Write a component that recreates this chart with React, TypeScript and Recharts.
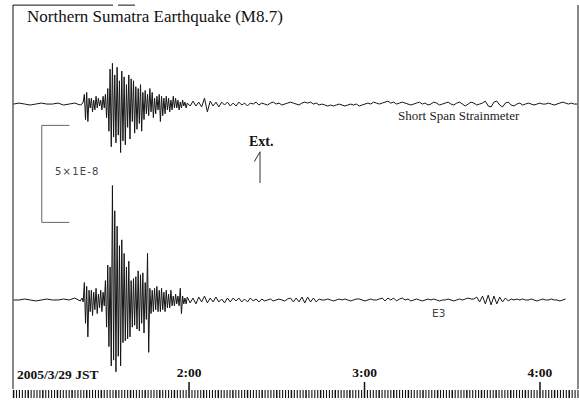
import { Customized, Line, LineChart, ReferenceLine, XAxis, YAxis } from 'recharts';

// sampling of the recordings, minutes after 0:00 JST
const quietStart = 60;
const quietStep = 1.9;
const burstStart = 83.4;
const burstStep = 0.4;
const codaStart = 119.4;
const codaStep = 0.98;

// strain in 1E-9 (short span strainmeter)
const upperQuiet = [0, 0.5, 0, -0.5, 0, 0.5, 0, 0, 0.5, -0.5, 0, 0.5, -0.5];
const upperBurst = [
  0, 1, 5, -8, 6, -9, 3,
  -2, 3, -4, 2, -3, 4, -2, 3, -1, 2, -3, 4, -2,
  5, -7, 8,
  -14, 18, -22, 21, -17, 15, -20,
  19, -16, 12, -25, 17, -19, 14, -21, 10,
  -12, 15, -18, 13, -9, 12, -15,
  9, -13, 8, -10, 10, -14, 6, -8, 7, -5, 5,
  -6, 8, -4, 6, -7, 3, -5, 4, -3,
  5, -9, 4, -6, 3, -5, 4, -3,
  3, -4, 2, -3, 4, -2, 3, -2, 2, -3, 1, -2, 2, -1, 1, -2,
];
const upperCoda = [
  0.5, -1, 1.5, -1, 1, -1.5, 3, -4, 1.5, -1, 1, -1.5, 1, -0.5, 1, -1, 0.5, -1, 1, -0.5, 0.5, -1,
  0.5, 0, 1, -0.5, 0.5, 0, -0.5, 0.5, 1, 0, 0.5, -0.5, 0, 0.5, 1, 0.5, 0, -0.5, 0.5,
  1, 0.5, 1, 0, 0.5, -0.5, 0, -0.5, -1, -0.5, -1, -0.5, 0, -0.5, -1, -0.5, 0, -0.5, 0, -1, -0.5, 0,
  0.5, 0, 1, 0.5, 0, 0.5, 1, 1.5, 0.5, 1, 0, 0.5, 1, 0.5, 0, -0.5, 0, 0.5,
  1, 0, 0.5, -0.5, 0, 1, 0.5, -0.5, 0, 0.5, 1, 0, -0.5, 0.5, 1, 0, -1, 0, 1, 0.5, -0.5, 0, 0.5,
  1.5, -1, -1.5, 1, 1.5, -0.5, -1.5, 0.5, 1, -0.5, -1,
  0, 0.5, -0.5, 0, 0.5, 0, -0.5, 0, 0.5, 0, 0, 0.5, 0, -0.5, 0, 0.5, 1, 0.5, 0, 0.5, 0, 0,
];

// strain in 1E-9 (E3)
const lowerQuiet = [0, 0, 0.5, 0, -0.5, 0, 0.5, 0, 0, 0.5, 0, 1, -0.5];
const lowerBurst = [
  1, -1, 9, -12, 7, -19, 5,
  -6, 5, -8, 4, -5, 6, -7, 3, -4, 5, -6, 4, -3,
  10, -14, 18,
  -24, 17, -34, 59, -31, 46, -37, 38, -29, 28, -34, 31, -22, 24, -21, 17, -20, 20, -19, 10,
  -14, 11, -13, 12, -15, 15, -16, 13, -12, 14, -17, 9, -10, 24, -27, 6, -7, 5, -6, 6,
  -5, 7, -6, 5, -6, 6, -5, 4, -6, 5, -4, 3, -4, 5, -3, 2, -3, 3, -2, 2,
  -3, 6, -7, 2, -2, 1, -2,
];
const lowerCoda = [
  1.5, -1.5, 1, -2, 1.5, -1, 2, -1.5, 1, -1, 1.5, -1, 0.5, -1.5, 1, -1, 1, -0.5, 1, -1, 0.5, -1, 1, -0.5, 0.5, -1,
  0.5, -0.5, 0, 0.5, -0.5, 0, 0.5, 0, -0.5, 0.5, 1, -1, 1, -1,
  1.5, -1.5, 1.5, -1, 1, -1, 0.5, 0,
  0, 0.5, 0, -0.5, 0, 0.5, 0, 0.5, 0, -0.5, 0, 0.5, 0.5, 0, -0.5, 0, 0.5, 0, 0,
  0.5, 1, -0.5, 1, 0, 1, -0.5, 0.5, 1, 0, 0.5, -0.5, 0, 0.5, 0, -0.5,
  0, 0.5, 0, 0.5, 0, -0.5, 0, 0, 0.5, 0, -0.5, 0, 0.5, 0, 0.5, 1, 0.5,
  0.5, 1.5, -1, 2, -2, 2.5, -2.5, 2, -2, 1.5, -1, 1, -0.5, 0.5, 0, 0.5,
  0, 0.5, 0, 0, 0.5, 0, -0.5, 0, 0.5, 0, 0, 0.5, 0, 0, -0.5, 0, 0.5, null, null, null, null,
];

const hourTicks = [120, 180, 240];
const hourLabels = ['2:00', '3:00', '4:00'];
const minuteTicks = Array.from({ length: 194 }, (_, i) => 60 + i);

const UPPER_OFFSET = 101;
const T_MIN = 59.8;
const T_MAX = 253;

function buildRows() {
  const rows: { t: number; upper: number | null; lower: number | null }[] = [];
  const segs = [
    { start: quietStart, step: quietStep, up: upperQuiet, lo: lowerQuiet },
    { start: burstStart, step: burstStep, up: upperBurst, lo: lowerBurst },
    { start: codaStart, step: codaStep, up: upperCoda, lo: lowerCoda },
  ];
  segs.forEach((s) => {
    s.up.forEach((v, i) => {
      const lo = s.lo[i];
      rows.push({
        t: +(s.start + i * s.step).toFixed(2),
        upper: v == null ? null : v + UPPER_OFFSET,
        lower: lo == null ? null : lo,
      });
    });
  });
  return rows;
}

const rows = buildRows();

function TimeTick(props: any) {
  const { x, y, payload } = props;
  const v = payload.value;
  const h = hourTicks.indexOf(v);
  return (
    <g>
      <line x1={x} x2={x} y1={h >= 0 ? y - 7 : y + 1} y2={y + 9} stroke="#111" strokeWidth={v % 5 === 0 ? 1.5 : 1.1} />
      {h >= 0 && (
        <text x={x} y={y - 12} textAnchor="middle" fontFamily="Liberation Serif" fontWeight="bold" fontSize={13.5} fill="#111">
          {hourLabels[h]}
        </text>
      )}
    </g>
  );
}

function Notes() {
  return (
    <g>
      <text x={27} y={22} fontFamily="Liberation Serif" fontSize={17} fill="#111">
        Northern Sumatra Earthquake (M8.7)
      </text>
      <text x={398} y={120} fontFamily="Liberation Serif" fontSize={13} fill="#222">
        Short Span Strainmeter
      </text>
      <text x={432} y={317} fontFamily="DejaVu Sans" fontSize={10.5} fill="#444">
        E3
      </text>
      <text x={55} y={175} fontFamily="DejaVu Sans" fontSize={10} fill="#444" letterSpacing={1.2}>
        5×1E-8
      </text>
      <text x={249} y={146} fontFamily="Liberation Serif" fontWeight={600} fontSize={14} fill="#111">
        Ext.
      </text>
      <text x={17} y={379} fontFamily="Liberation Serif" fontWeight="bold" fontSize={13.5} fill="#111">
        2005/3/29 JST
      </text>
    </g>
  );
}

export default function App() {
  return (
    <div style={{ position: 'absolute', left: 0, top: 0, width: 579, height: 401, background: '#fff' }}>
      <LineChart width={579} height={401} data={rows} margin={{ top: 5, right: 1, bottom: 0, left: 13 }}>
        <XAxis
          dataKey="t"
          type="number"
          domain={[T_MIN, T_MAX]}
          allowDataOverflow
          ticks={minuteTicks}
          interval={0}
          tick={<TimeTick />}
          tickLine={false}
          axisLine={false}
          tickSize={0}
          tickMargin={0}
          height={12}
        />
        <YAxis hide type="number" domain={[-45.88, 152.06]} allowDataOverflow />
        <ReferenceLine x={T_MIN} stroke="#111" />
        <ReferenceLine x={T_MAX} stroke="#111" />
        <ReferenceLine segment={[{ x: T_MIN, y: 152 }, { x: 94, y: 152 }]} stroke="#111" />
        <ReferenceLine segment={[{ x: 95.7, y: 152 }, { x: 101.5, y: 152 }]} stroke="#111" />
        <ReferenceLine segment={[{ x: 69.64, y: 90 }, { x: 69.64, y: 40 }]} stroke="#666" />
        <ReferenceLine segment={[{ x: 69.64, y: 90 }, { x: 79.08, y: 90 }]} stroke="#666" />
        <ReferenceLine segment={[{ x: 69.64, y: 40 }, { x: 79.08, y: 40 }]} stroke="#666" />
        <ReferenceLine segment={[{ x: 144.27, y: 60.3 }, { x: 144.27, y: 76.4 }]} stroke="#333" />
        <ReferenceLine segment={[{ x: 142.32, y: 71.3 }, { x: 144.27, y: 76.4 }]} stroke="#333" />
        <Line dataKey="upper" stroke="#151515" strokeWidth={1} dot={false} isAnimationActive={false} />
        <Line dataKey="lower" stroke="#151515" strokeWidth={1} dot={false} isAnimationActive={false} />
        <Customized component={Notes} />
      </LineChart>
    </div>
  );
}
